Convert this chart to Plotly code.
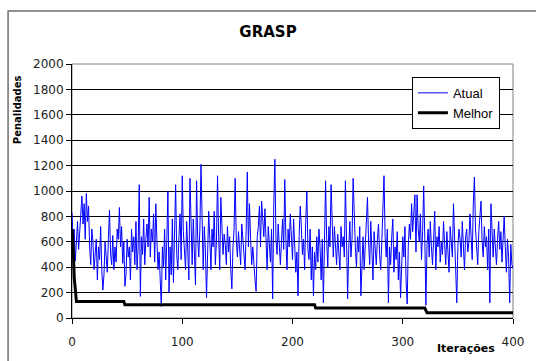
import plotly.graph_objects as go

iteracoes = list(range(0, 401))

atual = [
    830, 620, 700, 450, 600, 760, 540, 720, 800, 960, 740, 900, 620, 980, 760, 880, 560, 420, 700, 600,
    380, 520, 620, 300, 560, 460, 720, 380, 220, 340, 600, 480, 360, 620, 850, 500, 420, 650, 380, 560,
    440, 700, 620, 870, 560, 720, 430, 600, 250, 340, 620, 480, 560, 300, 700, 520, 640, 420, 760, 380,
    560, 1050, 170, 640, 500, 780, 420, 620, 740, 560, 950, 480, 700, 600, 820, 440, 900, 620, 380, 520,
    260, 90, 560, 400, 700, 300, 620, 1000, 200, 560, 340, 780, 280, 600, 1050, 500, 380, 640, 820, 460,
    1120, 680, 520, 380, 760, 560, 300, 1100, 640, 420, 780, 560, 260, 1080, 620, 480, 700, 1210, 600, 380,
    720, 540, 160, 460, 840, 620, 380, 700, 560, 840, 420, 600, 1120, 640, 380, 950, 720, 500, 660, 580,
    420, 720, 520, 640, 380, 230, 560, 700, 1100, 620, 480, 680, 540, 420, 740, 620, 500, 380, 700, 1150,
    560, 900, 620, 420, 560, 380, 300, 210, 640, 720, 880, 560, 920, 780, 640, 860, 540, 380, 720, 600,
    440, 700, 150, 880, 1250, 620, 500, 740, 560, 420, 600, 780, 540, 1090, 620, 380, 700, 560, 820, 640,
    460, 780, 600, 360, 520, 175, 640, 880, 720, 500, 620, 380, 760, 1000, 540, 460, 700, 300, 560, 175,
    520, 380, 640, 440, 700, 560, 300, 620, 120, 480, 1080, 620, 400, 720, 560, 1050, 640, 480, 720, 580,
    420, 660, 540, 380, 720, 560, 640, 480, 1080, 620, 150, 540, 760, 480, 620, 1100, 700, 560, 400, 640,
    520, 720, 175, 480, 640, 380, 560, 720, 950, 600, 420, 760, 540, 300, 680, 560, 420, 620, 740, 500,
    380, 600, 860, 1120, 640, 480, 700, 120, 560, 420, 640, 780, 360, 560, 460, 680, 300, 520, 160, 420,
    640, 480, 720, 300, 110, 560, 740, 620, 900, 680, 860, 970, 520, 970, 700, 600, 820, 460, 680, 1040,
    620, 100, 580, 700, 480, 760, 560, 420, 620, 840, 380, 640, 560, 720, 440, 600, 500, 760, 580, 420,
    680, 540, 360, 720, 600, 480, 900, 640, 420, 120, 560, 700, 620, 480, 760, 560, 380, 640, 700, 520,
    600, 820, 640, 460, 900, 1110, 700, 560, 420, 680, 780, 920, 600, 480, 720, 560, 640, 380, 700, 120,
    900, 640, 480, 700, 560, 420, 620, 760, 540, 680, 440, 600, 800, 560, 360, 620, 480, 120, 580, 420,
    390,
]

# Best-so-far ("Melhor") as change points: iteration -> value
melhor_iter = [0, 1, 2, 4, 47, 48, 220, 221, 320, 322, 400]
melhor_vals = [700, 580, 320, 130, 130, 104, 104, 78, 78, 41, 41]

y_ticks = [0, 200, 400, 600, 800, 1000, 1200, 1400, 1600, 1800, 2000]
x_ticks = [0, 100, 200, 300, 400]

W, H = 536, 361
ML, MR, MT, MB = 72, 19, 64, 41
PW, PH = W - ML - MR, H - MT - MB

def px_x(p):
    return (p - ML) / PW

def px_y(p):
    return (H - MB - p) / PH

fig = go.Figure()
fig.add_trace(go.Scatter(x=iteracoes, y=atual, mode="lines", name="Atual",
                         line=dict(color="#0000FF", width=1)))
fig.add_trace(go.Scatter(x=melhor_iter, y=melhor_vals, mode="lines", name="Melhor",
                         line=dict(color="#000000", width=3)))

font_main = "DejaVu Sans, Arial, sans-serif"
font_lab = "Liberation Sans, Arial, sans-serif"

fig.update_layout(
    width=W, height=H,
    margin=dict(l=ML, r=MR, t=MT, b=MB, pad=0),
    paper_bgcolor="white", plot_bgcolor="white",
    title=dict(text="<b>GRASP</b>", x=268 / W, xanchor="center",
               y=1 - 32 / H, yanchor="middle",
               font=dict(family=font_main, size=15, color="#000")),
    showlegend=True,
    legend=dict(x=px_x(415), y=px_y(77), xanchor="left", yanchor="top",
                bgcolor="white", bordercolor="#000", borderwidth=1,
                font=dict(family=font_lab, size=13, color="#000"),
                itemwidth=30, tracegroupgap=0),
    xaxis=dict(range=[0, 400], tickvals=x_ticks, ticktext=[str(v) for v in x_ticks],
               showgrid=False, zeroline=False, showline=True, linecolor="#000", linewidth=1,
               ticks="outside", ticklen=5, tickcolor="#000",
               tickfont=dict(family=font_main, size=12, color="#222"),
               ticklabelstandoff=8, fixedrange=True),
    yaxis=dict(range=[0, 2000], tickvals=y_ticks, ticktext=[str(v) for v in y_ticks],
               showgrid=True, gridcolor="#000", gridwidth=1, zeroline=False,
               showline=True, linecolor="#000", linewidth=1,
               ticks="outside", ticklen=5, tickcolor="#000",
               tickfont=dict(family=font_main, size=12, color="#222"),
               fixedrange=True),
    shapes=[
        dict(type="rect", xref="paper", yref="paper", x0=0, x1=1, y0=0, y1=1,
             line=dict(color="#808080", width=1), layer="below"),
        dict(type="rect", xref="paper", yref="paper",
             x0=px_x(7.5), x1=px_x(545), y0=px_y(370), y1=px_y(10.5),
             line=dict(color="#707070", width=1.5), layer="below"),
    ],
    annotations=[
        dict(text="<b>Penalidades</b>", textangle=-90, xref="paper", yref="paper",
             x=px_x(17), y=px_y(110), xanchor="center", yanchor="middle", showarrow=False,
             font=dict(family=font_main, size=10, color="#000")),
        dict(text="<b>Iterações</b>", xref="paper", yref="paper",
             x=px_x(470), y=px_y(351), xanchor="center", yanchor="middle", showarrow=False,
             font=dict(family=font_main, size=11, color="#000")),
    ],
)

fig.write_html("out.html", config={"displayModeBar": False},
               post_script="document.body.style.margin='0';document.body.style.overflow='hidden';")
